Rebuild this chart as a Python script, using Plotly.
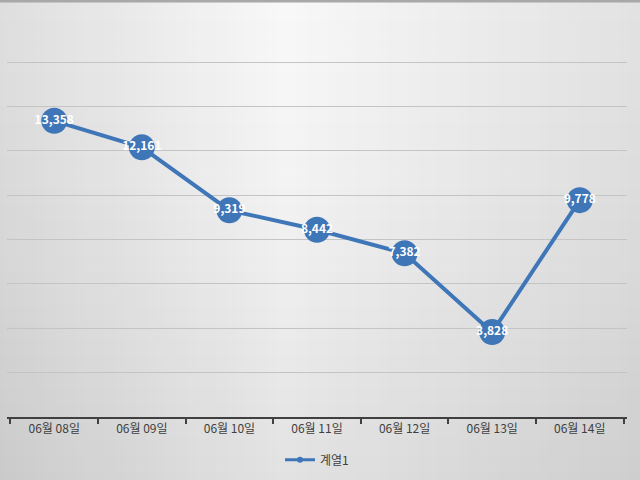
import plotly.graph_objects as go

categories = ["06월 08일", "06월 09일", "06월 10일", "06월 11일", "06월 12일", "06월 13일", "06월 14일"]
values = [13358, 12161, 9319, 8442, 7382, 3828, 9778]
labels = ["13,358", "12,161", "9,319", "8,442", "7,382", "3,828", "9,778"]
series_name = "계열1"

FONT = "Noto Sans CJK KR"
BLUE = "#3f76b8"

shapes = []
# horizontal gradient background (vertical strips)
n = 64
for i in range(n):
    t = (i + 0.5) / n
    if t < 0.45:
        g = 222 + (248 - 222) * (t / 0.45)
    else:
        g = 248 - (248 - 226) * ((t - 0.45) / 0.55)
    g = int(round(g))
    shapes.append(dict(type="rect", xref="paper", yref="paper", layer="below",
                       x0=-0.02 + i * 1.04 / n, x1=-0.02 + (i + 1) * 1.04 / n + 0.002,
                       y0=-0.2, y1=1.2, line=dict(width=0),
                       fillcolor=f"rgb({g},{g},{g})"))
# vertical darkening toward bottom
m = 30
ybot, ytop = -0.2, 1.2
step = (ytop - ybot) / m
for j in range(m):
    t = (j + 0.5) / m
    a = 0.09 * (1 - t) ** 1.5
    shapes.append(dict(type="rect", xref="paper", yref="paper", layer="below",
                       x0=-0.02, x1=1.03,
                       y0=ybot + j * step, y1=ybot + (j + 1) * step,
                       line=dict(width=0), fillcolor=f"rgba(0,0,0,{a:.3f})"))
# top border line
shapes.append(dict(type="line", xref="paper", yref="paper", x0=-0.02, x1=1.03,
                   y0=1.165, y1=1.165, line=dict(color="#a8a8a8", width=3)))

fig = go.Figure()
fig.add_trace(go.Scatter(
    x=categories, y=values, mode="lines+markers+text", name=series_name,
    line=dict(color=BLUE, width=4),
    marker=dict(size=26, color=BLUE, line=dict(width=0)),
    text=labels, textposition="middle center",
    textfont=dict(color="white", size=12, family=FONT, weight="bold"),
    cliponaxis=False, showlegend=False,
))
# legend entry with small marker
fig.add_trace(go.Scatter(
    x=[None], y=[None], mode="lines+markers", name=series_name,
    line=dict(color=BLUE, width=3), marker=dict(size=6, color=BLUE),
    showlegend=True,
))

fig.update_layout(
    width=640, height=480,
    margin=dict(l=7, r=13, t=60, b=63, autoexpand=False),
    paper_bgcolor="#eeeeee", plot_bgcolor="rgba(0,0,0,0)",
    shapes=shapes,
    showlegend=True,
    legend=dict(orientation="h", x=0.5, xanchor="center", y=-0.12, yanchor="middle",
                font=dict(family=FONT, size=12, color="#404040"),
                bgcolor="rgba(0,0,0,0)", itemwidth=30),
    font=dict(family=FONT, color="#404040"),
)
fig.update_xaxes(
    showline=True, linecolor="#404040", linewidth=1.5,
    ticks="outside", tickson="boundaries", ticklen=5, tickcolor="#404040", tickwidth=1.5,
    tickfont=dict(family=FONT, size=12, color="#404040"),
    showgrid=False, zeroline=False,
)
fig.update_yaxes(
    range=[0, 16100], tickvals=[2000, 4000, 6000, 8000, 10000, 12000, 14000, 16000],
    showticklabels=False,
    showgrid=True, gridcolor="#c4c4c4", gridwidth=1,
    zeroline=False, showline=False,
)

fig.write_html("out.html", config={"displayModeBar": False},
               post_script="document.body.style.margin='0';document.body.style.overflow='hidden';")
